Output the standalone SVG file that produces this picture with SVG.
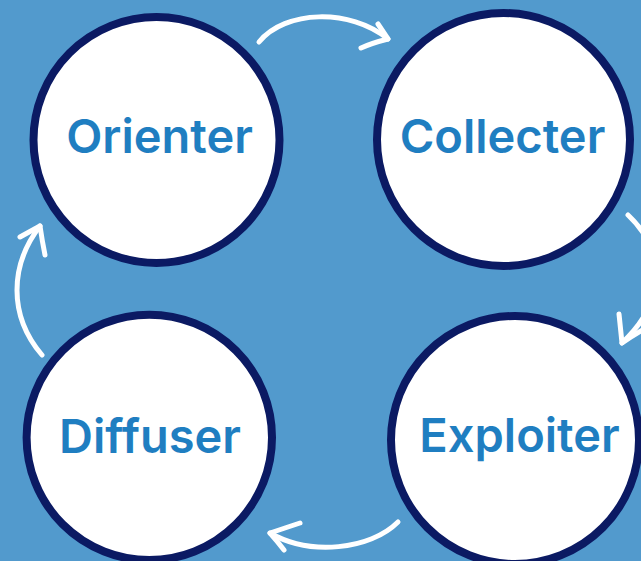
<svg xmlns="http://www.w3.org/2000/svg" width="641" height="561" viewBox="0 0 641 561">
<style>
.node circle{fill:#ffffff;stroke:#0b1a63;stroke-width:8}
.node text{font-family:Inter,"Open Sans","Liberation Sans",sans-serif;font-weight:600;font-size:47px;fill:#1f7ec1;text-anchor:middle}
.conn path{fill:none;stroke:#ffffff;stroke-width:5;stroke-linecap:round;stroke-linejoin:round}
</style>
<rect x="0" y="0" width="641" height="561" fill="#529acd"/>
<g id="connectors" class="conn">
<path d="M259,42 C285,10 350,8 388,39"/>
<path d="M378,24 L388,39 Q372,43 361,48"/>
<path d="M628,215 C665,250 668,300 622,343"/>
<path d="M619,314 L622,343 Q636,333 650,326"/>
<path d="M398,522 C370,550 310,556 270,533"/>
<path d="M300,523 L270,533 Q278,542 284,550"/>
<path d="M42,355 C8,315 10,265 40,226"/>
<path d="M20,237 L40,226 Q42,240 45,255"/>
</g>
<g id="orienter" class="node">
<circle cx="156.5" cy="140" r="123"/>
<text x="159.5" y="153">Orienter</text>
</g>
<g id="collecter" class="node">
<circle cx="503.5" cy="139.5" r="126.5"/>
<text x="502.5" y="153">Collecter</text>
</g>
<g id="diffuser" class="node">
<circle cx="149.3" cy="437.4" r="122.7"/>
<text x="150" y="453">Diffuser</text>
</g>
<g id="exploiter" class="node">
<circle cx="515" cy="440" r="124"/>
<text x="519.5" y="452">Exploiter</text>
</g>
</svg>
